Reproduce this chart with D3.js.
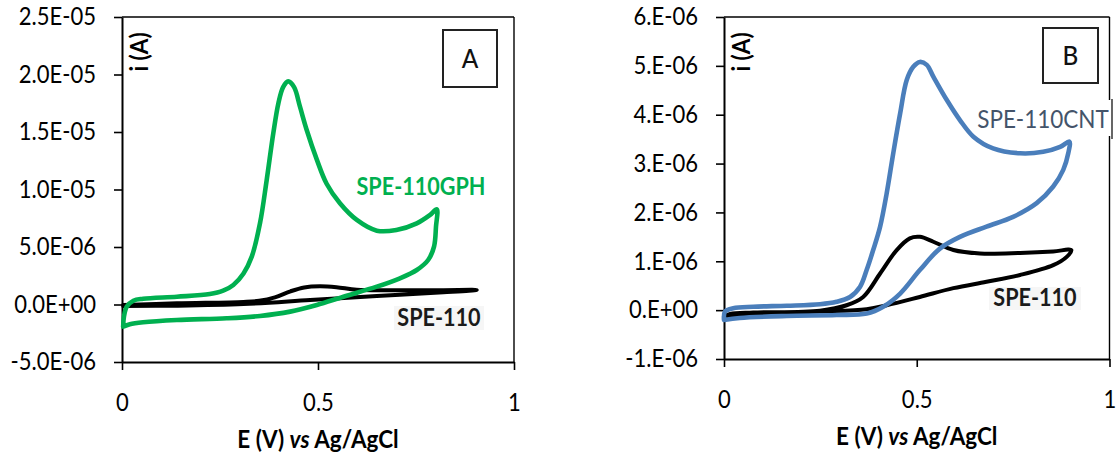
<!DOCTYPE html>
<html>
<head>
<meta charset="utf-8">
<script src="https://cdn.jsdelivr.net/npm/d3@7"></script>
<style>
  html, body { margin: 0; padding: 0; background: #fff; }
  svg { display: block; }
  text { font-family: Lato, "Open Sans", sans-serif; }
</style>
</head>
<body>
<svg id="chart" width="1117" height="456"></svg>
<script>
// ---------------- DATA ----------------
const xTickValues = [0, 0.5, 1];
const xTickLabels = ["0", "0.5", "1"];

const yTicksA = [-5e-6, 0, 5e-6, 1e-5, 1.5e-5, 2e-5, 2.5e-5];
const yTickLabelsA = ["-5.0E-06", "0.0E+00", "5.0E-06", "1.0E-05", "1.5E-05", "2.0E-05", "2.5E-05"];

const yTicksB = [-1e-6, 0, 1e-6, 2e-6, 3e-6, 4e-6, 5e-6, 6e-6];
const yTickLabelsB = ["-1.E-06", "0.E+00", "1.E-06", "2.E-06", "3.E-06", "4.E-06", "5.E-06", "6.E-06"];

// Panel A, bare SPE-110: [E (V), i (A)]
const spe110A = [
  [0.003, -0.04e-6], [0.14, 0.10e-6], [0.31, 0.22e-6], [0.35, 0.32e-6], [0.39, 0.62e-6],
  [0.43, 1.15e-6], [0.465, 1.48e-6], [0.505, 1.58e-6], [0.547, 1.50e-6], [0.599, 1.28e-6],
  [0.692, 1.24e-6], [0.82, 1.25e-6], [0.905, 1.26e-6],
  [0.82, 1.06e-6], [0.65, 0.74e-6], [0.48, 0.39e-6], [0.31, 0.04e-6], [0.14, -0.10e-6],
  [0.003, -0.13e-6]
];

// Panel A, SPE-110GPH
const spe110GPH = [
  [0.003, -1.93e-6], [0.005, -1.06e-6], [0.012, -0.19e-6], [0.029, 0.33e-6], [0.054, 0.50e-6],
  [0.14, 0.68e-6], [0.224, 0.91e-6], [0.258, 1.20e-6], [0.284, 1.70e-6], [0.31, 2.70e-6],
  [0.331, 4.16e-6], [0.352, 7.06e-6], [0.369, 10.8e-6], [0.386, 14.9e-6], [0.399, 17.5e-6],
  [0.411, 18.9e-6], [0.424, 19.4e-6], [0.439, 18.9e-6], [0.454, 17.2e-6], [0.471, 15.2e-6],
  [0.497, 12.6e-6], [0.522, 10.5e-6], [0.556, 8.8e-6], [0.599, 7.35e-6], [0.65, 6.42e-6],
  [0.70, 6.48e-6], [0.752, 7.06e-6], [0.786, 7.79e-6], [0.803, 8.28e-6],
  [0.801, 6.77e-6], [0.796, 5.03e-6], [0.781, 3.87e-6], [0.752, 3.0e-6], [0.709, 2.28e-6],
  [0.65, 1.55e-6], [0.565, 0.68e-6], [0.497, -0.04e-6], [0.429, -0.62e-6], [0.352, -1.0e-6],
  [0.267, -1.2e-6], [0.14, -1.35e-6], [0.054, -1.55e-6], [0.02, -1.72e-6], [0.003, -1.93e-6]
];

// Panel B, bare SPE-110
const spe110B = [
  [0.0, -0.13e-6], [0.016, -0.08e-6], [0.076, -0.05e-6], [0.249, -0.01e-6], [0.318, 0.10e-6],
  [0.361, 0.27e-6], [0.405, 0.75e-6], [0.448, 1.23e-6], [0.482, 1.47e-6], [0.508, 1.50e-6],
  [0.543, 1.40e-6], [0.595, 1.23e-6], [0.664, 1.16e-6], [0.768, 1.17e-6], [0.854, 1.20e-6],
  [0.901, 1.23e-6],
  [0.889, 1.09e-6], [0.854, 0.92e-6], [0.768, 0.72e-6], [0.681, 0.58e-6], [0.595, 0.45e-6],
  [0.508, 0.27e-6], [0.422, 0.10e-6], [0.37, 0.02e-6], [0.249, -0.03e-6], [0.076, -0.08e-6],
  [0.0, -0.13e-6]
];

// Panel B, SPE-110CNT
const spe110CNT = [
  [0.0, -0.20e-6], [0.0026, -0.03e-6], [0.024, 0.04e-6], [0.076, 0.07e-6], [0.163, 0.09e-6],
  [0.249, 0.12e-6], [0.292, 0.17e-6], [0.327, 0.27e-6], [0.353, 0.48e-6], [0.37, 0.82e-6],
  [0.387, 1.23e-6], [0.405, 1.71e-6], [0.422, 2.39e-6], [0.439, 3.21e-6], [0.457, 4.03e-6],
  [0.474, 4.71e-6], [0.491, 4.98e-6], [0.508, 5.08e-6], [0.526, 5.02e-6], [0.543, 4.78e-6],
  [0.578, 4.30e-6], [0.612, 3.89e-6], [0.647, 3.55e-6], [0.698, 3.31e-6], [0.768, 3.21e-6],
  [0.828, 3.24e-6], [0.872, 3.34e-6], [0.896, 3.45e-6],
  [0.893, 3.21e-6], [0.88, 2.87e-6], [0.854, 2.53e-6], [0.811, 2.19e-6], [0.75, 1.91e-6],
  [0.681, 1.71e-6], [0.612, 1.50e-6], [0.56, 1.26e-6], [0.508, 0.82e-6], [0.457, 0.34e-6],
  [0.413, 0.07e-6], [0.37, -0.07e-6], [0.292, -0.10e-6], [0.163, -0.12e-6], [0.041, -0.16e-6],
  [0.0, -0.20e-6]
];

const seriesNamesA = ["SPE-110", "SPE-110GPH"];
const seriesNamesB = ["SPE-110", "SPE-110CNT"];
const panelLetters = ["A", "B"];

// ---------------- DRAW ----------------
const svg = d3.select("#chart");
const SX = 0.9;            // horizontal condensing (Calibri-like proportions)
const TICK_FONT = "24.5px";

// condensed text helper
function ctext(parent, x, y, str, size, opts = {}) {
  const g = parent.append("g").attr("transform", `translate(${x},${y})`);
  const t = g.append("text").attr("transform", `scale(${SX},1)`)
    .attr("text-anchor", opts.anchor || "middle")
    .style("font-size", size)
    .style("font-weight", opts.weight || "normal")
    .style("fill", opts.fill || "#000")
    .text(str);
  return t;
}

function drawPanel(cfg) {
  const x = d3.scaleLinear().domain([0, 1]).range([cfg.left, cfg.right]);
  const y = d3.scaleLinear().domain([cfg.yTicks[0], cfg.yTicks[cfg.yTicks.length - 1]])
                            .range([cfg.bottom, cfg.top]);
  const g = svg.append("g");

  // plot frame (top & right)
  g.append("line").attr("x1", cfg.left).attr("x2", cfg.right).attr("y1", cfg.top).attr("y2", cfg.top)
    .attr("stroke", "#000").attr("stroke-width", 1.4);
  g.append("line").attr("x1", cfg.right).attr("x2", cfg.right).attr("y1", cfg.top).attr("y2", cfg.bottom)
    .attr("stroke", "#000").attr("stroke-width", 1.4);

  // y axis
  const yAxis = d3.axisLeft(y).tickValues(cfg.yTicks)
    .tickFormat((d, i) => cfg.yLabels[i]).tickSize(8).tickSizeOuter(0).tickPadding(18);
  const ya = g.append("g").attr("transform", `translate(${cfg.left},0)`).call(yAxis);
  ya.select(".domain").attr("stroke", "#000").attr("stroke-width", 2);
  ya.selectAll(".tick line").attr("stroke", "#000").attr("stroke-width", 1.6);
  ya.selectAll(".tick text").style("font-size", TICK_FONT).style("font-family", "Lato")
    .attr("x", -26 / SX).attr("transform", `scale(${SX},1)`).style("fill", "#000");

  // x axis
  const xAxis = d3.axisBottom(x).tickValues(xTickValues)
    .tickFormat((d, i) => xTickLabels[i]).tickSize(8).tickSizeOuter(0).tickPadding(24);
  const xa = g.append("g").attr("transform", `translate(0,${cfg.bottom})`).call(xAxis);
  xa.select(".domain").attr("stroke", "#000").attr("stroke-width", 2);
  xa.selectAll(".tick line").attr("stroke", "#000").attr("stroke-width", 1.6);
  xa.selectAll(".tick text").style("font-size", TICK_FONT).style("font-family", "Lato")
    .attr("transform", `scale(${SX},1)`).style("fill", "#000");

  // x title
  const tg = g.append("g").attr("transform", `translate(${(cfg.left + cfg.right) / 2},${cfg.bottom + 86})`);
  const t = tg.append("text").attr("transform", `scale(${SX},1)`)
    .attr("text-anchor", "middle").style("font-size", "25px").style("font-weight", "bold").style("fill", "#000");
  t.append("tspan").text("E (V) ");
  t.append("tspan").style("font-style", "italic").text("vs");
  t.append("tspan").text(" Ag/AgCl");

  // y title inside the plot
  g.append("text").attr("transform", `translate(${cfg.left + 26},${cfg.top + 35}) rotate(-90) scale(${SX},1)`)
    .attr("text-anchor", "middle").style("font-size", "25px").style("font-weight", "bold")
    .style("fill", "#000").text("i (A)");

  // panel letter box
  g.append("rect").attr("x", cfg.box[0]).attr("y", cfg.box[1]).attr("width", cfg.box[2]).attr("height", cfg.box[3])
    .attr("fill", "#fff").attr("stroke", "#222").attr("stroke-width", 2);
  ctext(g, cfg.box[0] + cfg.box[2] / 2, cfg.box[1] + cfg.box[3] / 2 + 9.5, cfg.letter, "27px", { weight: "500", fill: "#111" });

  const line = d3.line().x(d => x(d[0])).y(d => y(d[1])).curve(d3.curveCatmullRom.alpha(0.5));

  g.append("path").datum(cfg.bare).attr("d", line).attr("fill", "none")
    .attr("stroke", "#000").attr("stroke-width", 4).attr("stroke-linejoin", "round").attr("stroke-linecap", "round");
  g.append("path").datum(cfg.mod).attr("d", line).attr("fill", "none")
    .attr("stroke", cfg.color).attr("stroke-width", 4.6).attr("stroke-linejoin", "round").attr("stroke-linecap", "round");

  return g;
}

const gA = drawPanel({
  left: 122, right: 514, top: 17, bottom: 362,
  yTicks: yTicksA, yLabels: yTickLabelsA,
  bare: spe110A, mod: spe110GPH, color: "#00B050",
  box: [443, 30, 54, 57], letter: panelLetters[0]
});

const gB = drawPanel({
  left: 724, right: 1109.5, top: 17, bottom: 359,
  yTicks: yTicksB, yLabels: yTickLabelsB,
  bare: spe110B, mod: spe110CNT, color: "#4A7EBB",
  box: [1043, 28, 55, 55], letter: panelLetters[1]
});

// series labels
gA.append("rect").attr("x", 394).attr("y", 306).attr("width", 90).attr("height", 24).attr("fill", "#f6f6f6");
ctext(gA, 439, 326, seriesNamesA[0], "24px", { weight: "bold", fill: "#1a1a1a" });
ctext(gA, 421, 195, seriesNamesA[1], "24px", { weight: "bold", fill: "#00B050" });

gB.append("rect").attr("x", 989).attr("y", 287).attr("width", 92).attr("height", 23).attr("fill", "#f6f6f6");
ctext(gB, 1035, 306, seriesNamesB[0], "24px", { weight: "bold", fill: "#1a1a1a" });
gB.append("rect").attr("x", 980).attr("y", 100).attr("width", 131).attr("height", 36).attr("fill", "#fff");
gB.append("line").attr("x1", 1112).attr("x2", 1112).attr("y1", 99).attr("y2", 139)
  .attr("stroke", "#000").attr("stroke-width", 1.2);
ctext(gB, 1043, 128, seriesNamesB[1], "25px", { fill: "#44546A" });
</script>
</body>
</html>
